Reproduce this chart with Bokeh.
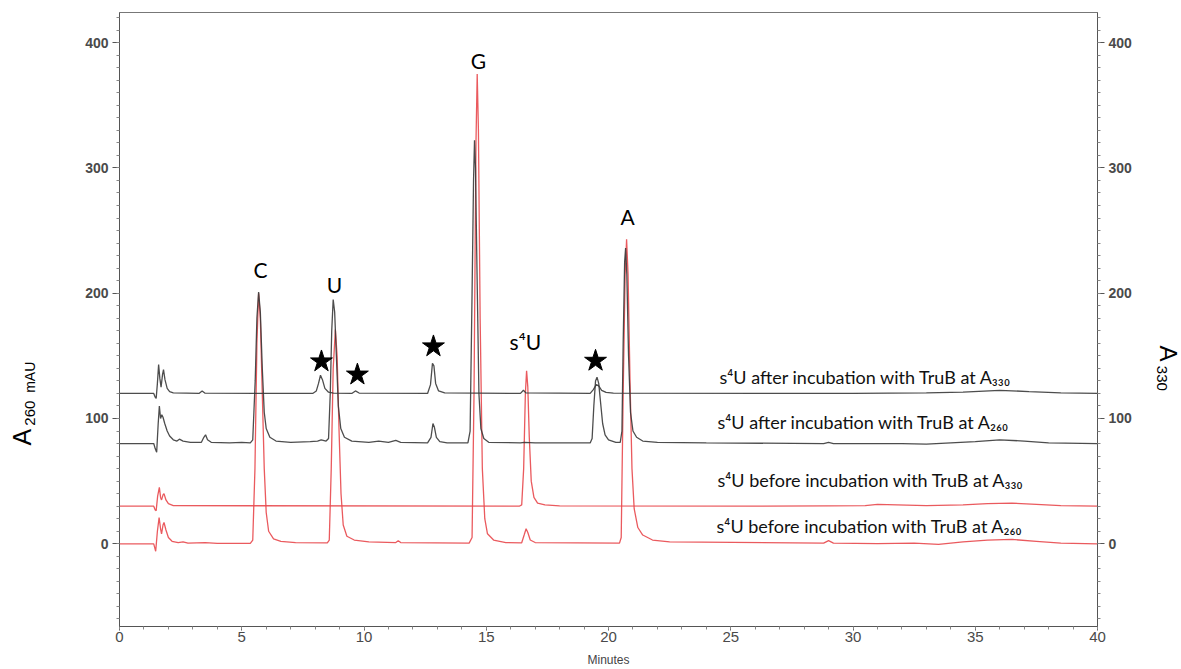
from math import pi
from bokeh.plotting import figure
from bokeh.layouts import row
from bokeh.models import Range1d, LinearAxis, SingleIntervalTicker
from bokeh.core.properties import value
from bokeh.embed import file_html
from bokeh.resources import INLINE

# ---------------- data ----------------
# s4U after incubation with TruB, A330 (black, offset baseline 120)
after330_t = [0, 1.40, 1.46, 1.50, 1.55, 1.60, 1.65, 1.70, 1.76, 1.80, 1.86, 1.95, 2.05, 2.2,
              3.25, 3.38, 3.5, 7.9, 8.05, 8.14, 8.22, 8.30, 8.40, 8.55, 8.75, 9.5, 9.65, 9.8,
              12.6, 12.72, 12.80, 12.86, 12.93, 13.05, 13.3, 16.4, 16.52, 16.62,
              19.25, 19.38, 19.50, 19.60, 19.72, 19.9, 20.2, 30, 33, 34.5, 36, 37.2, 38.5, 40]
after330_v = [120, 120, 117, 116, 128, 143, 132, 125, 135, 139, 131, 124, 121.5, 120.5,
              120, 122, 120.2, 120, 122, 128, 134.5, 131, 124, 121, 120.3, 120, 122, 120.3,
              120, 127, 144, 142, 128, 122, 120.4, 120, 122.5, 120.4,
              120, 123, 127, 126, 122.5, 120.8, 120.3, 120, 120.4, 121, 122.5, 121.5, 120.5, 120]

# s4U after incubation with TruB, A260 (black, offset baseline 80)
after260_t = [0, 1.40, 1.46, 1.52, 1.58, 1.63, 1.68, 1.73, 1.78, 1.85, 1.95, 2.05, 2.2, 2.35, 2.45,
              2.6, 2.9, 3.35, 3.45, 3.52, 3.6, 3.75, 4.5, 5.0, 5.35, 5.45, 5.55, 5.62, 5.69, 5.76,
              5.84, 5.92, 6.0, 6.15, 6.4, 7.0, 7.8, 8.1, 8.25, 8.45, 8.55, 8.62, 8.68, 8.74, 8.80,
              8.87, 8.95, 9.05, 9.2, 9.5, 10.2, 10.6, 11.0, 11.3, 11.5, 12.6, 12.74, 12.82, 12.88,
              12.96, 13.1, 13.4, 14.25, 14.34, 14.42, 14.48, 14.52, 14.56, 14.62, 14.70, 14.78,
              14.9, 15.1, 16.4, 16.55, 17, 19.25, 19.33, 19.40, 19.47, 19.53, 19.60, 19.68, 19.76,
              19.86, 20.0, 20.3, 20.48, 20.55, 20.60, 20.66, 20.70, 20.75, 20.82, 20.9, 21.0,
              21.15, 21.4, 22, 24, 28.8, 29, 29.2, 32, 33, 34, 35, 36, 37, 38, 40]
after260_v = [80, 80, 76, 73, 95, 110, 100, 103, 101, 96, 90, 86, 83, 82, 83.5,
              82, 81, 81, 85, 87, 83, 81, 80.5, 81, 80.6, 83, 130, 180, 201, 185,
              140, 105, 92, 85, 82, 81, 81.5, 82, 83, 82, 84, 120, 170, 195, 185,
              150, 110, 92, 85, 82, 81, 82, 81, 82.5, 81, 80.5, 85, 96, 93,
              85, 81.5, 80.5, 80.5, 90, 200, 290, 322, 300, 220, 120, 92,
              84, 81, 80.5, 81, 80.5, 80.5, 84, 110, 130, 133, 128, 112, 96,
              87, 83, 81, 81, 90, 160, 225, 236, 215, 150, 105, 90,
              85, 82, 81, 80.5, 80, 81, 80, 80, 79.5, 80.5, 81.5, 83, 82, 80.5, 80]

# s4U before incubation with TruB, A330 (red, offset baseline 30)
before330_t = [0, 1.40, 1.46, 1.50, 1.56, 1.63, 1.68, 1.72, 1.78, 1.82, 1.9, 2.0, 2.2,
               16.35, 16.45, 16.53, 16.60, 16.65, 16.70, 16.76, 16.84, 16.95, 17.1, 17.4, 18,
               26, 29, 30.5, 31, 33, 34.5, 35.5, 36.5, 37.5, 38.5, 40]
before330_v = [30, 30, 27, 26.5, 38, 45, 37, 35, 39, 40, 35, 32, 30.5,
               30, 31, 60, 120, 138, 125, 85, 50, 37, 32.5, 31, 30.3,
               30, 30.3, 30.5, 31.5, 30.5, 31, 32, 32.5, 31.5, 30.5, 30]

# s4U before incubation with TruB, A260 (red, baseline 0)
before260_t = [0, 1.40, 1.44, 1.48, 1.55, 1.62, 1.68, 1.72, 1.78, 1.82, 1.9, 2.0, 2.15, 2.4, 2.6,
               2.8, 3.5, 4, 5.35, 5.45, 5.54, 5.62, 5.69, 5.76, 5.84, 5.92, 6.0, 6.1, 6.3, 6.6,
               7.2, 8.5, 8.58, 8.66, 8.74, 8.83, 8.90, 8.98, 9.06, 9.15, 9.3, 9.6, 10.2, 11.3,
               11.4, 11.5, 14.3, 14.42, 14.50, 14.58, 14.63, 14.68, 14.75, 14.84, 14.94, 15.05,
               15.3, 15.8, 16.45, 16.55, 16.63, 16.7, 16.8, 17.0, 20.45, 20.52, 20.60, 20.68,
               20.74, 20.80, 20.88, 20.96, 21.05, 21.2, 21.4, 21.8, 22.5, 28.8, 29.0, 29.2, 31,
               32.5, 33.5, 34.5, 35.5, 36.5, 37.5, 38.5, 40]
before260_v = [0, 0, -3, -6, 10, 21, 12, 8, 15, 17, 11, 5, 2, 1, 1.5,
               0.5, 1, 0.3, 0.3, 3, 60, 160, 200, 180, 120, 60, 25, 10, 4, 2,
               1, 0.8, 3, 60, 140, 171, 150, 90, 40, 15, 6, 3, 1.5, 1,
               2.5, 1, 0.5, 5, 120, 320, 375, 330, 180, 60, 20, 8,
               3, 1, 0.8, 7, 12, 9, 3, 1, 0.5, 5, 120, 215,
               243, 215, 130, 60, 28, 13, 7, 3, 1.5, 0.5, 2.5, 0.5, 0.2,
               0.5, -0.5, 1.5, 3, 3.5, 2, 0.5, 0]

# peak labels
peak_names = ["C", "U", "G", "s\u2074U", "A"]
peak_lab_t = [5.77, 8.79, 14.68, 16.6, 20.78]
peak_lab_v = [218.8, 206.8, 385.8, 161.5, 260.9]

# stars marking new peaks
star_t = [8.26, 9.73, 12.84, 19.47]
star_v = [145.5, 135.0, 157.5, 146.0]

# trace labels
trace_names = ["s\u2074U after incubation with TruB at A\u2083\u2083\u2080",
               "s\u2074U after incubation with TruB at A\u2082\u2086\u2080",
               "s\u2074U before incubation with TruB at A\u2083\u2083\u2080",
               "s\u2074U before incubation with TruB at A\u2082\u2086\u2080"]
trace_lab_t = [24.54, 24.46, 24.46, 24.42]
trace_lab_v = [132.9, 97.1, 50.9, 14.3]

# axis titles, split into main letter and subscript parts
left_title_parts = ["A", "260", "mAU"]
right_title_parts = ["A", "330"]

x_ticks_interval = 5
y_ticks_interval = 100

# ---------------- layout constants ----------------
H = 669
LEFT_W = 40
RIGHT_W = 40
MAIN_W = 1181 - LEFT_W - RIGHT_W
FRAME_TOP = 12
FRAME_BOTTOM = 628

BLACK = "#3a3a3a"
RED = "#e8484c"
TICKFONT = "Liberation Sans"

# ---------------- main chart ----------------
p = figure(width=MAIN_W, height=H, x_range=Range1d(0, 40), y_range=Range1d(-66, 424),
           output_backend="svg", toolbar_location=None,
           min_border_left=119 - LEFT_W, min_border_right=LEFT_W + MAIN_W - 1097,
           min_border_top=FRAME_TOP, min_border_bottom=H - FRAME_BOTTOM)
p.xgrid.visible = False
p.ygrid.visible = False
p.outline_line_color = "#777777"
p.outline_line_width = 1
p.background_fill_color = "white"
p.border_fill_color = "white"

def style_axis(ax, ticker):
    ax.ticker = ticker
    ax.axis_line_color = "#555555"
    ax.major_tick_line_color = "#555555"
    ax.minor_tick_line_color = "#888888"
    ax.major_tick_out = 7
    ax.major_tick_in = 0
    ax.minor_tick_out = 3
    ax.minor_tick_in = 0
    ax.major_label_text_font = TICKFONT
    ax.major_label_text_font_size = "14px"
    ax.major_label_text_font_style = "bold"
    ax.major_label_text_color = "#4a4a4a"
    ax.major_label_standoff = 4

style_axis(p.xaxis[0], SingleIntervalTicker(interval=x_ticks_interval, num_minor_ticks=5))
style_axis(p.yaxis[0], SingleIntervalTicker(interval=y_ticks_interval, num_minor_ticks=10))
xa = p.xaxis[0]
xa.major_label_standoff = 1
xa.major_tick_out = 4
xa.major_label_text_font_style = "normal"
xa.major_label_text_font_size = "15px"
xa.axis_label = "Minutes"
xa.axis_label_text_font = TICKFONT
xa.axis_label_text_font_style = "normal"
xa.axis_label_text_font_size = "12px"
xa.axis_label_text_color = "#444444"
xa.axis_label_standoff = 8

right_axis = LinearAxis()
style_axis(right_axis, SingleIntervalTicker(interval=y_ticks_interval, num_minor_ticks=10))
p.add_layout(right_axis, "right")

# traces
p.line(before260_t, before260_v, line_color=RED, line_width=1.3, line_alpha=0.9)
p.line(before330_t, before330_v, line_color=RED, line_width=1.3, line_alpha=0.9)
p.line(after260_t, after260_v, line_color=BLACK, line_width=1.3, line_alpha=0.9)
p.line(after330_t, after330_v, line_color=BLACK, line_width=1.3, line_alpha=0.9)

# stars
p.scatter(star_t, star_v, marker="star", size=23, fill_color="black", line_color="black")

# peak labels
p.text(x=peak_lab_t, y=peak_lab_v, text=peak_names, text_font=value("Lato"),
       text_font_size="21px", text_align="center", text_baseline="middle", text_color="black")

# trace labels
p.text(x=trace_lab_t, y=trace_lab_v, text=trace_names, text_font=value("Lato"),
       text_font_size="18px", text_align="left", text_baseline="middle", text_color="#111111")

# ---------------- side strips holding the axis titles ----------------
# the row aligns the strips' frames with the main frame (canvas y 12..628),
# so the strip's y range is chosen so that data y = H - canvas y
def strip(width):
    f = figure(width=width, height=H, x_range=Range1d(0, width),
               y_range=Range1d(H - FRAME_BOTTOM, H - FRAME_TOP),
               output_backend="svg", toolbar_location=None,
               x_axis_location=None, y_axis_location=None,
               min_border=0, min_border_left=0, min_border_right=0,
               min_border_top=FRAME_TOP, min_border_bottom=H - FRAME_BOTTOM)
    f.xgrid.visible = False
    f.ygrid.visible = False
    f.outline_line_color = None
    f.background_fill_color = "white"
    f.border_fill_color = "white"
    return f

left = strip(LEFT_W)
left.text(x=[21, 29, 29], y=[H - 438, H - 414, H - 378], text=left_title_parts,
          angle=pi / 2, text_font=value(TICKFONT), text_font_size=["25px", "15px", "14px"],
          text_align="center", text_baseline="middle", text_color="black")

right = strip(RIGHT_W)
rx0 = LEFT_W + MAIN_W
right.text(x=[1168 - rx0, 1161 - rx0], y=[H - 354, H - 379], text=right_title_parts,
           angle=-pi / 2, text_font=value(TICKFONT), text_font_size=["24px", "15px"],
           text_align="center", text_baseline="middle", text_color="black")

layout = row(left, p, right, spacing=0)
open("out.html", "w").write(file_html(layout, INLINE))
